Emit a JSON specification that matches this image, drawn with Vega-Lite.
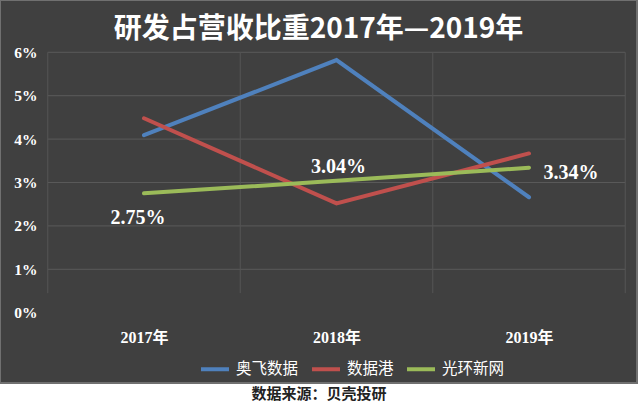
{
  "$schema": "https://vega.github.io/schema/vega-lite/v6.json",
  "width": 637,
  "height": 383,
  "autosize": {"type": "none"},
  "padding": {"left": 0, "top": 0, "right": 3, "bottom": 23},
  "background": "#ffffff",
  "view": {"stroke": null},
  "config": {
    "axisX": {
      "labelFont": "Liberation Serif, Noto Sans CJK SC",
      "labelFontSize": 16,
      "labelFontWeight": "bold",
      "labelColor": "#ffffff",
      "titleFont": "Noto Sans CJK SC",
      "titleFontSize": 15,
      "titleFontWeight": "bold",
      "titleColor": "#222222"
    },
    "axisY": {
      "labelFont": "Liberation Serif",
      "labelFontSize": 15.5,
      "labelFontWeight": "bold",
      "labelColor": "#ffffff"
    }
  },
  "title": {
    "text": "研发占营收比重2017年—2019年",
    "font": "Noto Sans CJK SC",
    "fontSize": 28,
    "fontWeight": "bold",
    "color": "#ffffff",
    "anchor": "middle",
    "offset": -45
  },
  "datasets": {
    "panel": [{"name": "panel"}],
    "rd": [
      {"series": "奥飞数据", "year": 2017, "value": 0.0409},
      {"series": "奥飞数据", "year": 2018, "value": 0.0582},
      {"series": "奥飞数据", "year": 2019, "value": 0.0266},
      {"series": "数据港", "year": 2017, "value": 0.0448},
      {"series": "数据港", "year": 2018, "value": 0.0252},
      {"series": "数据港", "year": 2019, "value": 0.0367},
      {"series": "光环新网", "year": 2017, "value": 0.0275},
      {"series": "光环新网", "year": 2018, "value": 0.0304},
      {"series": "光环新网", "year": 2019, "value": 0.0334}
    ],
    "hgrid": [
      {"v": 0.01}, {"v": 0.02}, {"v": 0.03}, {"v": 0.04}, {"v": 0.05}, {"v": 0.06}
    ],
    "vgrid": [
      {"g": 2016.5}, {"g": 2017.5}, {"g": 2018.5}, {"g": 2019.5}
    ]
  },
  "layer": [
    {
      "data": {"name": "panel"},
      "mark": {"type": "rect", "fill": "#404040", "stroke": "#707070", "strokeWidth": 2},
      "encoding": {
        "x": {"datum": 2016.252, "type": "quantitative"},
        "x2": {"datum": 2019.561},
        "y": {"datum": -0.0162, "type": "quantitative"},
        "y2": {"datum": 0.07205}
      }
    },
    {
      "data": {"name": "hgrid"},
      "mark": {"type": "rule", "color": "#5a5a5a", "strokeWidth": 1},
      "encoding": {
        "y": {"field": "v", "type": "quantitative"},
        "x": {"datum": 2016.5, "type": "quantitative"},
        "x2": {"datum": 2019.5}
      }
    },
    {
      "data": {"name": "vgrid"},
      "mark": {"type": "rule", "color": "#545454", "strokeWidth": 1},
      "encoding": {
        "x": {"field": "g", "type": "quantitative"},
        "y": {"datum": 0.0045, "type": "quantitative"},
        "y2": {"datum": 0.06}
      }
    },
    {
      "data": {"name": "rd"},
      "mark": {"type": "line", "strokeWidth": 4, "strokeCap": "round", "strokeJoin": "miter"},
      "encoding": {
        "x": {
          "field": "year",
          "type": "quantitative",
          "scale": {"domain": [2016.252, 2019.561], "nice": false, "zero": false},
          "axis": {
            "values": [2017, 2018, 2019],
            "labelExpr": "datum.value + '年'",
            "grid": false,
            "ticks": false,
            "tickSize": 0,
            "domain": false,
            "offset": -54,
            "labelPadding": 0,
            "labelFlush": false,
            "labelOverlap": false,
            "zindex": 2,
            "title": "数据来源：贝壳投研",
            "titlePadding": 41
          }
        },
        "y": {
          "field": "value",
          "type": "quantitative",
          "scale": {"domain": [-0.0162, 0.07205], "nice": false, "zero": false},
          "axis": {
            "values": [0, 0.01, 0.02, 0.03, 0.04, 0.05, 0.06],
            "format": ".0%",
            "grid": false,
            "ticks": false,
            "tickSize": 0,
            "domain": false,
            "offset": -37,
            "labelPadding": 0,
            "labelFlush": false,
            "labelOverlap": false,
            "zindex": 2,
            "title": null
          }
        },
        "color": {
          "field": "series",
          "type": "nominal",
          "scale": {
            "domain": ["奥飞数据", "数据港", "光环新网"],
            "range": ["#4f81bd", "#c0504d", "#9bbb59"]
          },
          "legend": {
            "orient": "none",
            "legendX": 199,
            "legendY": 353,
            "direction": "horizontal",
            "title": null,
            "symbolType": "stroke",
            "symbolSize": 784,
            "symbolStrokeWidth": 4,
            "labelFont": "Noto Sans CJK SC",
            "labelFontSize": 15.5,
            "labelColor": "#ffffff",
            "labelOffset": 5,
            "columnPadding": 5,
            "padding": 0
          }
        }
      }
    },
    {
      "data": {"name": "rd"},
      "transform": [{"filter": "datum.series === '光环新网' && datum.year === 2017"}],
      "mark": {"type": "text", "font": "Liberation Serif", "fontSize": 20, "fontWeight": "bold", "color": "#ffffff", "align": "center", "baseline": "middle", "dx": -6, "dy": 25},
      "encoding": {
        "x": {"field": "year", "type": "quantitative"},
        "y": {"field": "value", "type": "quantitative"},
        "text": {"field": "value", "type": "quantitative", "format": ".2%"}
      }
    },
    {
      "data": {"name": "rd"},
      "transform": [{"filter": "datum.series === '光环新网' && datum.year === 2018"}],
      "mark": {"type": "text", "font": "Liberation Serif", "fontSize": 20, "fontWeight": "bold", "color": "#ffffff", "align": "center", "baseline": "middle", "dx": 2, "dy": -14},
      "encoding": {
        "x": {"field": "year", "type": "quantitative"},
        "y": {"field": "value", "type": "quantitative"},
        "text": {"field": "value", "type": "quantitative", "format": ".2%"}
      }
    },
    {
      "data": {"name": "rd"},
      "transform": [{"filter": "datum.series === '光环新网' && datum.year === 2019"}],
      "mark": {"type": "text", "font": "Liberation Serif", "fontSize": 20, "fontWeight": "bold", "color": "#ffffff", "align": "center", "baseline": "middle", "dx": 42, "dy": 5},
      "encoding": {
        "x": {"field": "year", "type": "quantitative"},
        "y": {"field": "value", "type": "quantitative"},
        "text": {"field": "value", "type": "quantitative", "format": ".2%"}
      }
    }
  ]
}
